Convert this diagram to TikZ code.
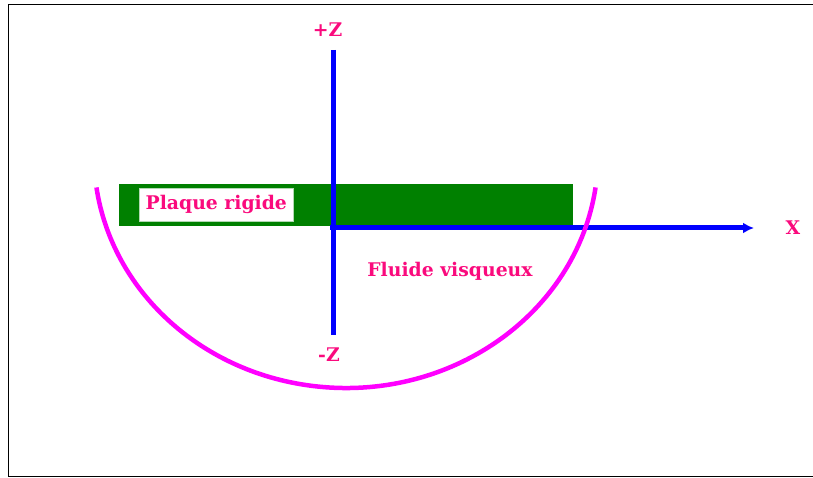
\documentclass[tikz,border=0pt]{standalone}
\usepackage{fontspec}
\setmainfont{DejaVu Serif}
\usetikzlibrary{arrows.meta}
\definecolor{lblpink}{RGB}{250,10,125}
\definecolor{axblue}{RGB}{0,0,255}
\definecolor{plategreen}{RGB}{0,128,0}
\definecolor{arcmag}{RGB}{255,0,255}
\tikzset{
  lbl/.style={text=lblpink, font=\bfseries\fontsize{18.8}{21}\selectfont, inner sep=0pt},
  axis/.style={draw=axblue, line width=5pt},
  frameline/.style={draw=black, line width=1.2pt},
}
\begin{document}
\begin{tikzpicture}[x=1pt,y=-1pt]
\useasboundingbox (0,0) rectangle (813,478);
% frame
\draw[frameline] (813,4.5) -- (8.5,4.5) -- (8.5,476.5) -- (813,476.5);
% plate
\fill[plategreen] (119,184) rectangle (573,226.5);
\node[fill=white, draw=white!70!plategreen, line width=0.5pt, minimum width=154pt, minimum height=32.5pt, inner sep=0pt] (box) at (216.3,204.7) {};
\node[lbl] (plaque) at (box.center) {Plaque rigide};
% axes
\coordinate (origin) at (333,228);
\coordinate (ztop) at (333,50);
\coordinate (zbot) at (333,335);
\coordinate (xend) at (754,228);
\draw[axis] (ztop) -- (zbot);
\draw[axis, -{Latex[length=11pt,width=11pt]}] ([xshift=-3pt]origin) -- (xend);
% fluid boundary (semi-ellipse)
\coordinate (ectr) at (346,155);
\draw[arcmag, line width=4.5pt] (ectr) ++(-8:252 and -233) arc[start angle=-8, end angle=-172, x radius=252, y radius=-233];
% labels
\node[lbl] (pz) at (327.5,30) {+Z};
\node[lbl] (mz) at (329,355) {-Z};
\node[lbl] (xl) at (793,228) {X};
\node[lbl] (fluide) at (450,271.5) {Fluide visqueux};
\end{tikzpicture}
\end{document}
